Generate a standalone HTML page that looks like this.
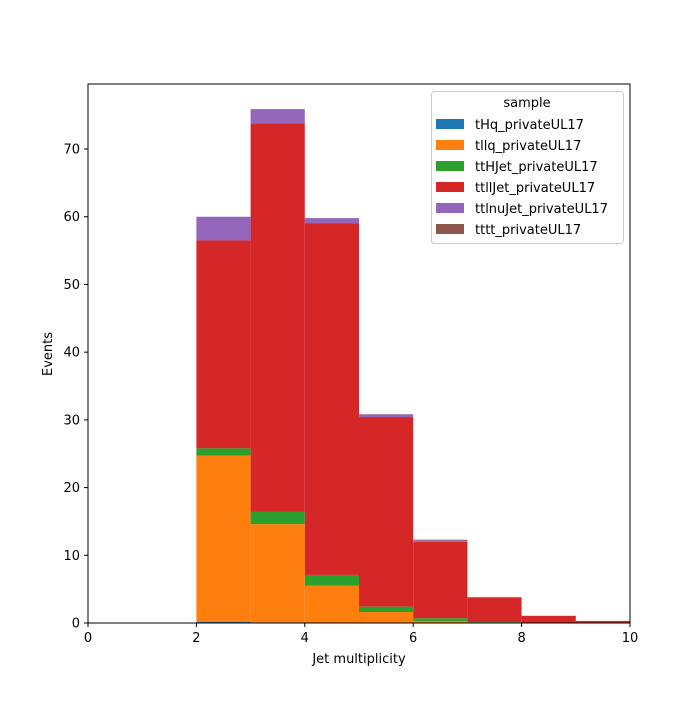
<!DOCTYPE html>
<html><head><meta charset="utf-8"><style>
body{margin:0;background:#fff;}
svg text{font-family:"DejaVu Sans","Liberation Sans",sans-serif;fill:#000;}
</style></head><body>
<svg id="chart" width="700" height="700" xmlns="http://www.w3.org/2000/svg">
<g id="bars"></g>
<rect x="88" y="84" width="542" height="539" fill="none" stroke="#000" stroke-width="1"/>
<g id="xt"></g>
<g id="yt"></g>
<text x="359" y="663" font-size="13" text-anchor="middle">Jet multiplicity</text>
<text transform="translate(52,354) rotate(-90)" font-size="13" text-anchor="middle">Events</text>
<g id="legend">
<rect x="431.5" y="91.5" width="192" height="152" rx="3" fill="#fff" stroke="#ccc"/>
<text x="527" y="107" font-size="13" text-anchor="middle">sample</text>
</g>
</svg>
<script>
const binEdges=[2,3,4,5,6,7,8,9,10];
const seriesNames=["tHq_privateUL17","tllq_privateUL17","ttHJet_privateUL17","ttllJet_privateUL17","ttlnuJet_privateUL17","tttt_privateUL17"];
const colors=["#1f77b4","#ff7f0e","#2ca02c","#d62728","#9467bd","#8c564b"];
const tHq=[0.2,0.1,0.05,0.02,0,0,0,0];
const tllq=[24.5,14.5,5.45,1.6,0.3,0.1,0.02,0];
const ttHJet=[1.1,1.8,1.6,0.8,0.4,0.05,0.02,0];
const ttllJet=[30.7,57.4,51.9,28.0,11.3,3.6,1.0,0.3];
const ttlnuJet=[3.5,2.1,0.8,0.4,0.2,0.05,0.02,0];
const tttt=[0,0,0,0.02,0.1,0.05,0.02,0.01];
const xTicks=[0,2,4,6,8,10];
const yTicks=[0,10,20,30,40,50,60,70];
const NS="http://www.w3.org/2000/svg";
const X=v=>88+v*54.2;
const Y=v=>623-v*6.771;
const series=[tHq,tllq,ttHJet,ttllJet,ttlnuJet,tttt];
const bars=document.getElementById('bars');
const cum=binEdges.slice(0,-1).map(()=>0);
series.forEach((s,si)=>{
  s.forEach((v,i)=>{
    if(v<=0) return;
    const r=document.createElementNS(NS,'rect');
    
    
    const x0=X(binEdges[i]),x1=X(binEdges[i+1]);
    const y0=Y(cum[i]),y1=Y(cum[i]+v);
    r.setAttribute('x',x0);r.setAttribute('width',x1-x0);
    r.setAttribute('y',y1);r.setAttribute('height',y0-y1);
    r.setAttribute('fill',colors[si]);
    bars.appendChild(r);
    cum[i]+=v;
  });
});
const xt=document.getElementById('xt');
xTicks.forEach(t=>{
  const l=document.createElementNS(NS,'line');
  
  
  l.setAttribute('x1',X(t));l.setAttribute('x2',X(t));l.setAttribute('y1',623);l.setAttribute('y2',627);l.setAttribute('stroke','#000');
  xt.appendChild(l);
  const tx=document.createElementNS(NS,'text');
  
  
  tx.setAttribute('x',X(t));tx.setAttribute('y',642);tx.setAttribute('font-size','13');tx.setAttribute('text-anchor','middle');
  tx.textContent=t;xt.appendChild(tx);
});
const yt=document.getElementById('yt');
yTicks.forEach(t=>{
  const l=document.createElementNS(NS,'line');
  
  
  l.setAttribute('x1',84);l.setAttribute('x2',88);l.setAttribute('y1',Y(t));l.setAttribute('y2',Y(t));l.setAttribute('stroke','#000');
  yt.appendChild(l);
  const tx=document.createElementNS(NS,'text');
  
  
  tx.setAttribute('x',80);tx.setAttribute('y',Y(t)+4.5);tx.setAttribute('font-size','13');tx.setAttribute('text-anchor','end');
  tx.textContent=t;yt.appendChild(tx);
});
const lg=document.getElementById('legend');
seriesNames.forEach((n,i)=>{
  const cy=124+i*21;
  const r=document.createElementNS(NS,'rect');
  
  
  r.setAttribute('x',436);r.setAttribute('y',cy-5);r.setAttribute('width',28);r.setAttribute('height',10);r.setAttribute('fill',colors[i]);
  lg.appendChild(r);
  const t=document.createElementNS(NS,'text');
  
  
  t.setAttribute('x',475);t.setAttribute('y',cy+5);t.setAttribute('font-size','13');
  t.textContent=n;lg.appendChild(t);
});
</script>
</body></html>
